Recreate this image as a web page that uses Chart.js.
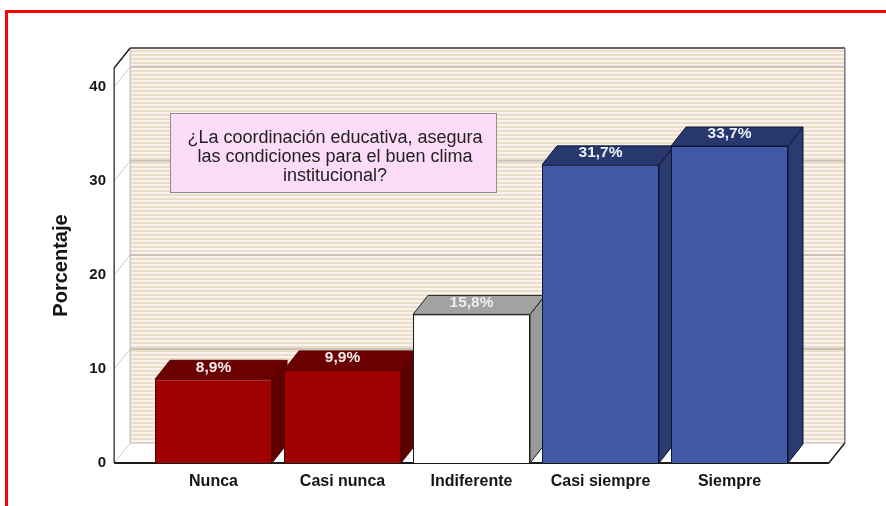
<!DOCTYPE html>
<html><head><meta charset="utf-8">
<script src="https://cdn.jsdelivr.net/npm/chart.js@4"></script>
<style>
html,body{margin:0;padding:0;background:#fff;overflow:hidden}
#wrap{position:relative;width:886px;height:506px;overflow:hidden}
canvas{position:absolute;left:0;top:0}
#frame{position:absolute;left:5px;top:10px;width:920px;height:540px;border:3px solid #ff0000;box-sizing:border-box;pointer-events:none}
#note{position:absolute;left:170px;top:113px;width:327px;height:80px;background:#fcdcf9;border:1.5px solid #8c8c8c;box-sizing:border-box}
#noteText{position:absolute;left:170px;width:330px;top:128px;text-align:center;font:18px/19px "Liberation Sans",Arial,sans-serif;color:#222}
</style></head>
<body>
<div id="wrap">
<canvas id="c" width="886" height="506"></canvas>
<div id="note"></div>
<div id="noteText">¿La coordinación educativa, asegura<br>las condiciones para el buen clima<br>institucional?</div>
<div id="frame"></div>
</div>
<script>
const categories = ['Nunca', 'Casi nunca', 'Indiferente', 'Casi siempre', 'Siempre'];
const percentages = [8.9, 9.9, 15.8, 31.7, 33.7];
const valueLabels = ['8,9%', '9,9%', '15,8%', '31,7%', '33,7%'];
const yTicks = [0, 10, 20, 30, 40];
const yMax = 42;

const frontColors = ['#9e0000', '#9e0000', '#ffffff', '#3f59a7', '#3f59a7'];
const topColors = ['#6a0000', '#6a0000', '#a2a2a2', '#26386d', '#26386d'];
const sideColors = ['#5c0000', '#5c0000', '#9a9a9a', '#2b3b70', '#2b3b70'];
const edgeColors = ['#5a0000', '#5a0000', '#1e1e1e', '#0f1736', '#0f1736'];
const labelColors = ['#f6eeee', '#f6eeee', '#eeeeee', '#eef0f8', '#eef0f8'];

const FONT = '"Liberation Sans", Arial, sans-serif';
const DX = 16, DY = -20;
const BDX = 15, BDY = -19;

function poly(ctx, pts, fill, stroke, lw) {
  ctx.beginPath();
  ctx.moveTo(pts[0][0], pts[0][1]);
  for (let i = 1; i < pts.length; i++) ctx.lineTo(pts[i][0], pts[i][1]);
  ctx.closePath();
  if (fill) { ctx.fillStyle = fill; ctx.fill(); }
  if (stroke) { ctx.strokeStyle = stroke; ctx.lineWidth = lw || 1; ctx.stroke(); }
}
function line(ctx, x1, y1, x2, y2, c, w) {
  ctx.beginPath(); ctx.moveTo(x1, y1); ctx.lineTo(x2, y2);
  ctx.strokeStyle = c; ctx.lineWidth = w || 1; ctx.stroke();
}

const scene3d = {
  id: 'scene3d',
  beforeDatasetsDraw(chart) {
    const { ctx, chartArea: a, scales: { x, y } } = chart;
    const ext = (a.right - a.left) / categories.length * 0.27;
    const L = a.left - ext, R = a.right + ext;
    const B = y.getPixelForValue(0), T = y.getPixelForValue(yMax);
    const bl = L + DX, br = R + DX, bt = T + DY, bb = B + DY;
    ctx.save();
    ctx.fillStyle = '#fbf2ee';
    ctx.fillRect(bl, bt, br - bl, bb - bt);
    ctx.fillStyle = '#ebdec9';
    for (let yy = bt + 2; yy < bb; yy += 4) ctx.fillRect(bl, yy, br - bl, 2);
    poly(ctx, [[L, T], [bl, bt], [bl, bb], [L, B]], '#ffffff');
    poly(ctx, [[L, B], [bl, bb], [br, bb], [R, B]], '#ffffff');
    yTicks.forEach(v => {
      const py = y.getPixelForValue(v);
      if (v > 0) line(ctx, bl, py + DY, br, py + DY, '#cbc3bb', 2);
      line(ctx, L, py, bl, py + DY, '#cccccc', 1);
    });
    line(ctx, bl, bt, bl, bb, '#b4b4b4', 1);
    line(ctx, bl, bb, br, bb, '#bdbdbd', 1);
    line(ctx, bl, bt, br, bt, '#333333', 1.5);
    line(ctx, br, bt, br, bb, '#7a7a7a', 1.5);
    line(ctx, L, T, L, B, '#444444', 1.5);
    line(ctx, L, T, bl, bt, '#222222', 1.5);
    line(ctx, L, B, R, B, '#1a1a1a', 2);
    line(ctx, R, B, br, bb, '#1a1a1a', 1.5);
    ctx.restore();
  },
  afterDatasetsDraw(chart) {
    const ctx = chart.ctx;
    const meta = chart.getDatasetMeta(0);
    ctx.save();
    meta.data.forEach((bar, i) => {
      const p = bar.getProps(['x', 'y', 'base', 'width'], true);
      const l = p.x - p.width / 2, r = p.x + p.width / 2;
      poly(ctx, [[r, p.y], [r + BDX, p.y + BDY], [r + BDX, p.base + BDY], [r, p.base]], sideColors[i], edgeColors[i], 1);
      poly(ctx, [[l, p.y], [l + BDX, p.y + BDY], [r + BDX, p.y + BDY], [r, p.y]], topColors[i], edgeColors[i], 1);
      if (meta.data[i + 1]) meta.data[i + 1].draw(ctx);
    });
    ctx.font = 'bold 15.5px ' + FONT;
    ctx.textAlign = 'center';
    ctx.textBaseline = 'middle';
    meta.data.forEach((bar, i) => {
      const p = bar.getProps(['x', 'y'], true);
      ctx.fillStyle = labelColors[i];
      ctx.fillText(valueLabels[i], p.x, p.y - 12);
    });
    ctx.restore();
  }
};

new Chart(document.getElementById('c'), {
  type: 'bar',
  data: {
    labels: categories,
    datasets: [{
      data: percentages,
      backgroundColor: frontColors,
      borderColor: edgeColors,
      borderWidth: 1,
      categoryPercentage: 1,
      barPercentage: 0.907
    }]
  },
  options: {
    responsive: false,
    animation: false,
    events: [],
    layout: { padding: { left: 0, right: 92, top: 68, bottom: 0 } },
    plugins: { legend: { display: false }, tooltip: { enabled: false } },
    scales: {
      x: {
        grid: { display: false, drawTicks: false },
        border: { display: false },
        ticks: { font: { family: FONT, size: 16, weight: 'bold' }, color: '#151515', padding: 9 },
        afterFit(a) { a.height = 43; }
      },
      y: {
        min: 0, max: yMax,
        grid: { display: false, drawTicks: true, tickLength: 40 },
        border: { display: false },
        ticks: { stepSize: 10, includeBounds: false, font: { family: FONT, size: 15, weight: 'bold' }, color: '#151515', padding: 3 },
        title: { display: true, text: 'Porcentaje', font: { family: FONT, size: 20, weight: 'bold' }, color: '#151515', padding: { top: 49, bottom: 0 } },
        afterFit(a) { a.width = 149; }
      }
    }
  },
  plugins: [scene3d]
});
</script>
</body></html>
